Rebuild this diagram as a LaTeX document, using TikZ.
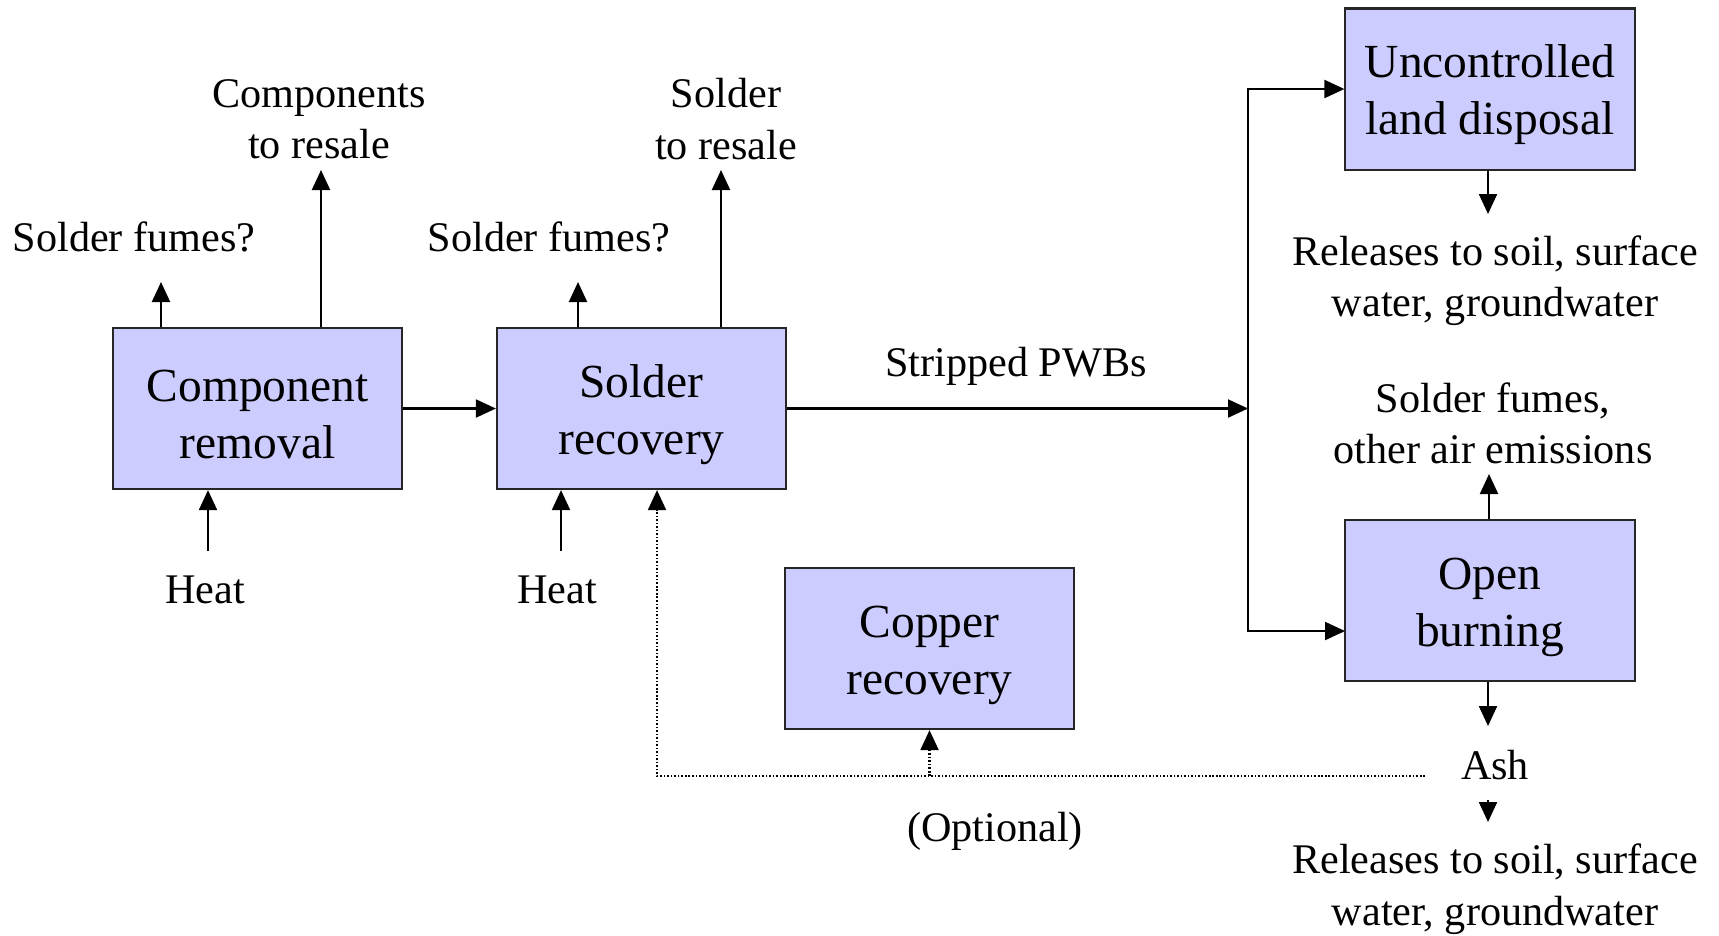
\documentclass[tikz,border=0pt]{standalone}
\usepackage{fontspec}
\setmainfont{Liberation Serif}
\usepackage{tikz}
\usetikzlibrary{arrows.meta, positioning}
\definecolor{boxblue}{RGB}{204,204,255}
\newcommand{\boxgap}{\rule{0pt}{12.6pt}}
\tikzstyle{process} = [rectangle, minimum width=2.89cm, minimum height=1.61cm, text centered, align=center, draw=black!85, line width=0.6pt, fill=boxblue, font=\fontsize{13.5}{16.2}\selectfont]
\tikzstyle{flowtext} = [inner sep=0pt, align=center, font=\fontsize{12}{14.6}\selectfont]
\tikzstyle{arrow} = [line width=0.6pt, -{Triangle[length=0.2cm, width=0.18cm]}]
\tikzstyle{optarrow} = [line width=0.6pt, dash pattern=on 0.45pt off 0.55pt, -{Triangle[length=0.2cm, width=0.18cm]}]

\begin{document}
\begin{tikzpicture}[x=0.01cm, y=-0.01cm]
        \useasboundingbox (0,0) rectangle (1719,935);

        % Process boxes
        \node (comp) [process] at (257.5,408.5) {\boxgap Component\\removal};
        \node (solder) [process] at (641.5,408.5) {\boxgap Solder\\recovery};
        \node (copper) [process] at (929.5,648.5) {\boxgap Copper\\recovery};
        \node (land) [process] at (1490,89) {\boxgap Uncontrolled\\land disposal};
        \node (burn) [process] at (1490,600.5) {\boxgap Open\\burning};

        % Text labels
        \node (fumes1) [flowtext] at (134,237) {Solder fumes?};
        \node (resale1) [flowtext] at (319,119) {Components\\to resale};
        \node (heat1) [flowtext] at (205,590) {Heat};
        \node (fumes2) [flowtext] at (549,237) {Solder fumes?};
        \node (resale2) [flowtext] at (726,119) {Solder\\to resale};
        \node (heat2) [flowtext] at (557,590) {Heat};
        \node (pwb) [flowtext] at (1016,366) {Stripped PWBs};
        \node (rel1) [flowtext] at (1495,281) {Releases to soil, surface\\water, groundwater};
        \node (air) [flowtext] at (1493,423) {Solder fumes,\\other air emissions};
        \node (ash) [flowtext] at (1495,765) {Ash};
        \node (rel2) [flowtext] at (1495,889) {Releases to soil, surface\\water, groundwater};
        \node (opt) [flowtext] at (995,831) {(Optional)};

        % Arrow end points
        \coordinate (f1) at (161,282);
        \coordinate (r1) at (321,170);
        \coordinate (h1) at (208,551);
        \coordinate (f2) at (578,282);
        \coordinate (r2) at (721,170);
        \coordinate (h2) at (561,551);
        \coordinate (split) at (1248,408.5);
        \coordinate (intoburn) at (1345,631);
        \coordinate (r3) at (1488,214);
        \coordinate (a1) at (1489,474);
        \coordinate (a2) at (1488,726);
        \coordinate (a3) at (1488,800);
        \coordinate (a4) at (1488,822);
        \coordinate (ashline) at (1425,776);
        \coordinate (turn) at (657,776);

        % Main flow
        \draw [arrow] (comp) -- (solder);
        \draw [arrow] (solder.east) -- (split);
        \draw [arrow] (split) |- (land.west);
        \draw [arrow] (split) |- (intoburn);

        % Outputs and inputs
        \draw [arrow] (comp.north -| f1) -- (f1);
        \draw [arrow] (comp.north -| r1) -- (r1);
        \draw [arrow] (h1) -- (h1 |- comp.south);
        \draw [arrow] (solder.north -| f2) -- (f2);
        \draw [arrow] (solder.north -| r2) -- (r2);
        \draw [arrow] (h2) -- (h2 |- solder.south);
        \draw [arrow] (land.south -| r3) -- (r3);
        \draw [arrow] (burn.north -| a1) -- (a1);
        \draw [arrow] (burn.south -| a2) -- (a2);
        \draw [arrow] (a3) -- (a4);

        % Optional ash return
        \draw [optarrow] (ashline) -- (turn) -- (turn |- solder.south);
        \draw [optarrow] (copper.south |- turn) -- (copper.south);
    \end{tikzpicture}
\end{document}
